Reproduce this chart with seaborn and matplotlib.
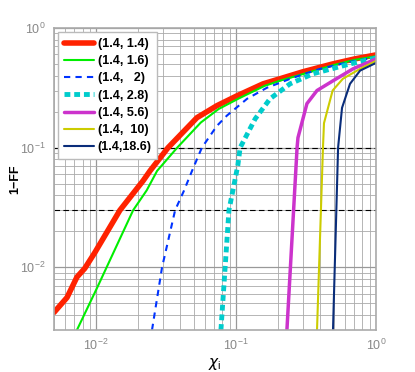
import matplotlib
matplotlib.use("Agg")
import matplotlib.pyplot as plt
import seaborn as sns
import pandas as pd
from matplotlib.ticker import LogLocator, NullFormatter

sns.set_style("white")
plt.rcParams['font.family'] = ['Liberation Sans', 'DejaVu Sans']

labels = ["(1.4, 1.4)", "(1.4, 1.6)", "(1.4,   2)", "(1.4, 2.8)", "(1.4, 5.6)", "(1.4,  10)", "(1.4,18.6)"]

x_red = [0.005, 0.0062, 0.0073, 0.0083, 0.0098, 0.0148, 0.0217, 0.0243, 0.0327, 0.0526, 0.073, 0.1016, 0.156, 0.206, 0.3, 0.49, 0.7, 1.0]
y_red = [0.0042, 0.0056, 0.0083, 0.0098, 0.0133, 0.030, 0.053, 0.064, 0.1, 0.178, 0.224, 0.271, 0.341, 0.376, 0.43, 0.50, 0.55, 0.595]

x_green = [0.0073, 0.0102, 0.0184, 0.023, 0.0273, 0.038, 0.056, 0.075, 0.105, 0.16, 0.21, 0.32, 0.5, 0.7, 1.0]
y_green = [0.003, 0.0068, 0.030, 0.044, 0.064, 0.1, 0.162, 0.21, 0.258, 0.328, 0.365, 0.42, 0.49, 0.54, 0.58]

x_blue = [0.0251, 0.0296, 0.0367, 0.0425, 0.0485, 0.057, 0.073, 0.086, 0.12, 0.166, 0.25, 0.398, 0.65, 1.0]
y_blue = [0.003, 0.01, 0.03, 0.0438, 0.064, 0.1, 0.152, 0.185, 0.256, 0.316, 0.38, 0.455, 0.52, 0.57]

x_cyan = [0.078, 0.089, 0.103, 0.107, 0.137, 0.175, 0.243, 0.355, 0.652, 1.0]
y_cyan = [0.003, 0.03, 0.071, 0.1, 0.174, 0.256, 0.341, 0.414, 0.50, 0.56]

x_mag = [0.231, 0.273, 0.277, 0.321, 0.379, 0.49, 0.685, 1.0]
y_mag = [0.003, 0.1, 0.121, 0.233, 0.30, 0.36, 0.455, 0.55]

x_yel = [0.379, 0.418, 0.425, 0.49, 0.58, 0.77, 1.0]
y_yel = [0.003, 0.1, 0.16, 0.30, 0.376, 0.455, 0.53]

x_navy = [0.493, 0.536, 0.572, 0.652, 0.77, 1.0]
y_navy = [0.003, 0.1, 0.215, 0.341, 0.44, 0.51]

hlines = [0.1, 0.03]

series = [
    (x_red, y_red, "#ff2200", 4.0, "-"),
    (x_green, y_green, "#00ee00", 1.5, "-"),
    (x_blue, y_blue, "#0033ff", 1.5, (0, (3, 2.5))),
    (x_cyan, y_cyan, "#00cccc", 3.5, (0, (1.2, 0.8))),
    (x_mag, y_mag, "#cc33cc", 2.5, "-"),
    (x_yel, y_yel, "#cccc00", 1.5, "-"),
    (x_navy, y_navy, "#0a2d7a", 1.5, "-"),
]

fig = plt.figure(figsize=(4.15, 3.72), dpi=100)
ax = fig.add_axes([0.130, 0.113, 0.776, 0.812])
ax.set_xscale("log")
ax.set_yscale("log")

for (xs, ys, c, lw, ls), lab in zip(series, labels):
    df = pd.DataFrame({"x": xs, "y": ys})
    sns.lineplot(data=df, x="x", y="y", ax=ax, color=c, linewidth=lw,
                 linestyle=ls, label=lab, sort=False, estimator=None)

for h in hlines:
    ax.axhline(h, color="black", linewidth=0.8, linestyle=(0, (5, 3)), zorder=1)

ax.set_xlim(0.005, 1)
ax.set_ylim(0.003, 1)
ax.xaxis.set_major_locator(LogLocator(base=10, numticks=10))
ax.yaxis.set_major_locator(LogLocator(base=10, numticks=10))
ax.xaxis.set_minor_locator(LogLocator(base=10, subs=range(2, 10), numticks=20))
ax.yaxis.set_minor_locator(LogLocator(base=10, subs=range(2, 10), numticks=20))
ax.xaxis.set_minor_formatter(NullFormatter())
ax.yaxis.set_minor_formatter(NullFormatter())
ax.grid(True, which="major", color="#999999", linewidth=0.9)
ax.grid(True, which="minor", color="#aaaaaa", linewidth=0.6)
ax.set_axisbelow(True)
for s in ax.spines.values():
    s.set_color("#aaaaaa")
    s.set_linewidth(1.2)
ax.tick_params(which="both", length=0, labelsize=9, labelcolor="#888888", pad=6)

ax.set_xlabel(r"$\chi_\mathregular{i}$", fontsize=11, labelpad=2, color="black")
ax.set_ylabel("1\u2212FF", fontsize=9, fontweight="bold", color="black")
ax.yaxis.set_label_coords(-0.1, 0.5)

leg = ax.legend(loc="upper left", frameon=True, fancybox=False, handlelength=2.4,
                handletextpad=0.3, borderpad=0.45, labelspacing=0.42,
                prop={"weight": "bold", "size": 9}, borderaxespad=0.35)
leg.get_frame().set_edgecolor("#bbbbbb")
leg.get_frame().set_linewidth(1.0)
leg.get_frame().set_alpha(1.0)
for t in leg.get_texts():
    t.set_color("black")

fig.savefig("out.png", dpi=100)
